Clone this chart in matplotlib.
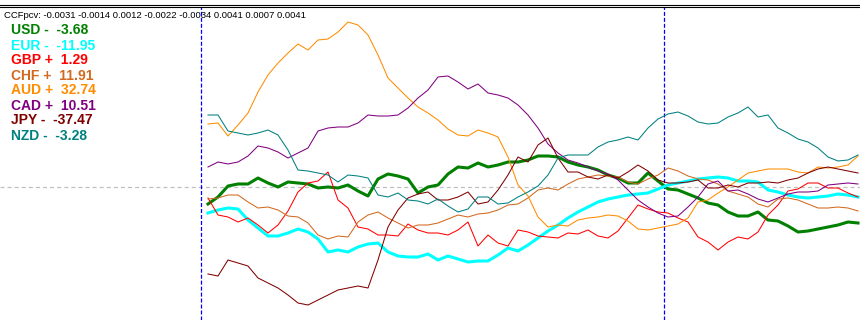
import matplotlib
matplotlib.use('Agg')
import matplotlib.pyplot as plt
import numpy as np
from matplotlib.lines import Line2D

plt.rcParams['lines.scale_dashes'] = False

# Dados do indicador (nivel relativo a linha zero)
currencies = ['USD', 'EUR', 'GBP', 'CHF', 'AUD', 'CAD', 'JPY', 'NZD']
signs = ['-', '-', '+', '+', '+', '+', '-', '-']
strengths = ['-3.68', '-11.95', '1.29', '11.91', '32.74', '10.51', '-37.47', '-3.28']
header_values = ['-0.0031', '-0.0014', '0.0012', '-0.0022', '-0.0034', '0.0041', '0.0007', '0.0041']
colors = ['#008000', '#00FFFF', '#FF0000', '#D2691E', '#FF8C00', '#800080', '#800000', '#008080']
widths = [2.2, 2.2, 0.75, 0.75, 0.75, 0.75, 0.75, 0.75]

usd = [-17, -10, 1, 3, 3, 9, 4, 0, 5, 4,
       3, -1, 0, -1, 2, -4, -9, 8, 13, 11,
       8, -6, 0, 2, 13, 20, 19, 24, 20, 22,
       25, 25, 27, 31, 31, 30, 25, 22, 20, 17,
       12, 9, 4, 4, 14, 6, -2, -3, -7, -11,
       -16, -18, -25, -29, -29, -25, -33, -34, -39, -45,
       -44, -42, -40, -38, -35, -36]
eur = [-26, -23, -21, -22, -33, -41, -49, -49, -46, -42,
       -45, -52, -65, -63, -65, -60, -57, -56, -65, -69,
       -70, -70, -67, -73, -69, -72, -75, -74, -74, -68,
       -61, -64, -58, -51, -44, -38, -31, -25, -20, -15,
       -12, -10, -8, -7, -6, -2, 2, 4, 6, 8,
       9, 10, 9, 6, 6, 5, -3, -5, -8, -10,
       -11, -10, -9, -7, -8, -10]
gbp = [-11, -28, -30, -35, -31, -38, -46, -38, -24, -5,
       4, 6, 15, -13, -21, -40, -42, -48, -48, -49,
       -37, -43, -46, -46, -48, -43, -35, -59, -48, -56,
       -59, -43, -45, -49, -50, -51, -46, -47, -43, -49,
       -51, -44, -31, -18, -22, -25, -26, -31, -35, -50,
       -55, -63, -55, -50, -52, -45, -28, -18, -4, -2,
       4, 4, -1, -1, -6, -10]
chf = [-12, -11, -8, -8, -15, -21, -20, -23, -29, -30,
       -36, -48, -52, -49, -50, -35, -28, -25, -31, -36,
       -41, -38, -38, -36, -32, -28, -30, -27, -26, -23,
       -18, -17, -11, -3, -1, -3, 3, 8, 10, 12,
       11, 10, 5, 3, 8, 12, 19, 16, 11, 8,
       7, 3, -4, -7, -10, -17, -20, -12, -11, -13,
       -17, -21, -21, -20, -21, -24]
aud = [63, 64, 51, 62, 74, 95, 112, 124, 134, 143,
       137, 147, 148, 155, 165, 162, 152, 132, 109, 99,
       89, 80, 74, 67, 58, 52, 51, 57, 54, 50,
       30, 2, -9, -30, -40, -38, -39, -33, -31, -30,
       -28, -29, -34, -42, -43, -41, -39, -37, -31, -15,
       -13, -6, 0, 7, 14, 16, 18, 18, 18, 15,
       14, 20, 19, 20, 22, 31]
cad = [20, 25, 23, 25, 31, 41, 39, 35, 29, 34,
       39, 56, 59, 60, 60, 64, 72, 71, 71, 72,
       79, 89, 97, 110, 111, 105, 98, 103, 94, 92,
       89, 82, 72, 59, 43, 34, 27, 24, 20, 16,
       13, 7, -3, -13, -20, -26, -30, -29, -20, -10,
       3, 6, -4, -3, -7, -12, -15, -11, -7, -5,
       -5, -4, 2, 3, 4, 3]
jpy = [-87, -89, -73, -76, -79, -91, -96, -101, -108, -116,
       -118, -113, -108, -103, -101, -99, -101, -73, -40, -23,
       -11, -7, -5, -13, -13, -10, -5, -17, -15, -3,
       12, 30, 25, 42, 49, 29, 15, 15, 10, 8,
       12, 9, 15, 22, 16, 7, 4, 4, 5, 7,
       -1, -1, 2, 0, 4, 4, 5, 4, 7, 9,
       14, 18, 20, 18, 16, 14]
nzd = [72, 72, 56, 54, 52, 54, 57, 52, 37, 17,
       16, 14, 12, 5, 12, 11, 9, -8, -10, -6,
       -13, -14, -17, -12, -19, -25, -22, -10, -10, -17,
       -16, -10, -5, 1, 12, 29, 32, 32, 32, 40,
       45, 47, 50, 47, 59, 68, 73, 75, 71, 65,
       63, 64, 70, 74, 80, 70, 72, 59, 54, 48,
       45, 39, 30, 26, 27, 32]
series = [usd, eur, gbp, chf, aud, cad, jpy, nzd]

# Separadores de periodo (em barras)
separators = [-0.7, 45.6]

W, H = 860, 320
fig = plt.figure(figsize=(W / 100, H / 100), dpi=100)
ax = fig.add_axes([0, 0, 1, 1])
ax.set_axis_off()
ax.set_xlim(-20.8, 65.2)
ax.set_ylim(-133, 187)

bars = np.arange(len(usd))
for i, (vals, c, lw) in enumerate(zip(series, colors, widths)):
    ax.plot(bars, vals, color=c, lw=lw, zorder=3 + i, solid_joinstyle='round')

# Linha zero e separadores
ax.axhline(0, color='#C0C0C0', lw=0.9, dashes=(2.9, 2.2), zorder=1)
for s in separators:
    ax.axvline(s, ymin=0, ymax=1 - 7 / H, color='#0000FF', lw=0.9,
               dashes=(2.9, 1.4), zorder=2)

# Borda dupla no topo
for yy in [4.5, 6.5]:
    fig.add_artist(Line2D([0, 1], [1 - yy / H, 1 - yy / H], color='black', lw=0.8))

# Cabecalho
fig.text(4 / W, 1 - 15 / H, 'CCFpcv: ' + ' '.join(header_values),
         fontsize=6.8, family='Liberation Sans', va='center', ha='left')

# Legenda com as forcas
for k, (name, sg, val, c) in enumerate(zip(currencies, signs, strengths, colors)):
    fig.text(11 / W, 1 - (30.5 + 15 * k) / H, f'{name} {sg}  {val}', color=c,
             fontsize=10, fontweight='bold', family='Liberation Sans',
             va='center', ha='left')

plt.savefig('out.png', dpi=100)
